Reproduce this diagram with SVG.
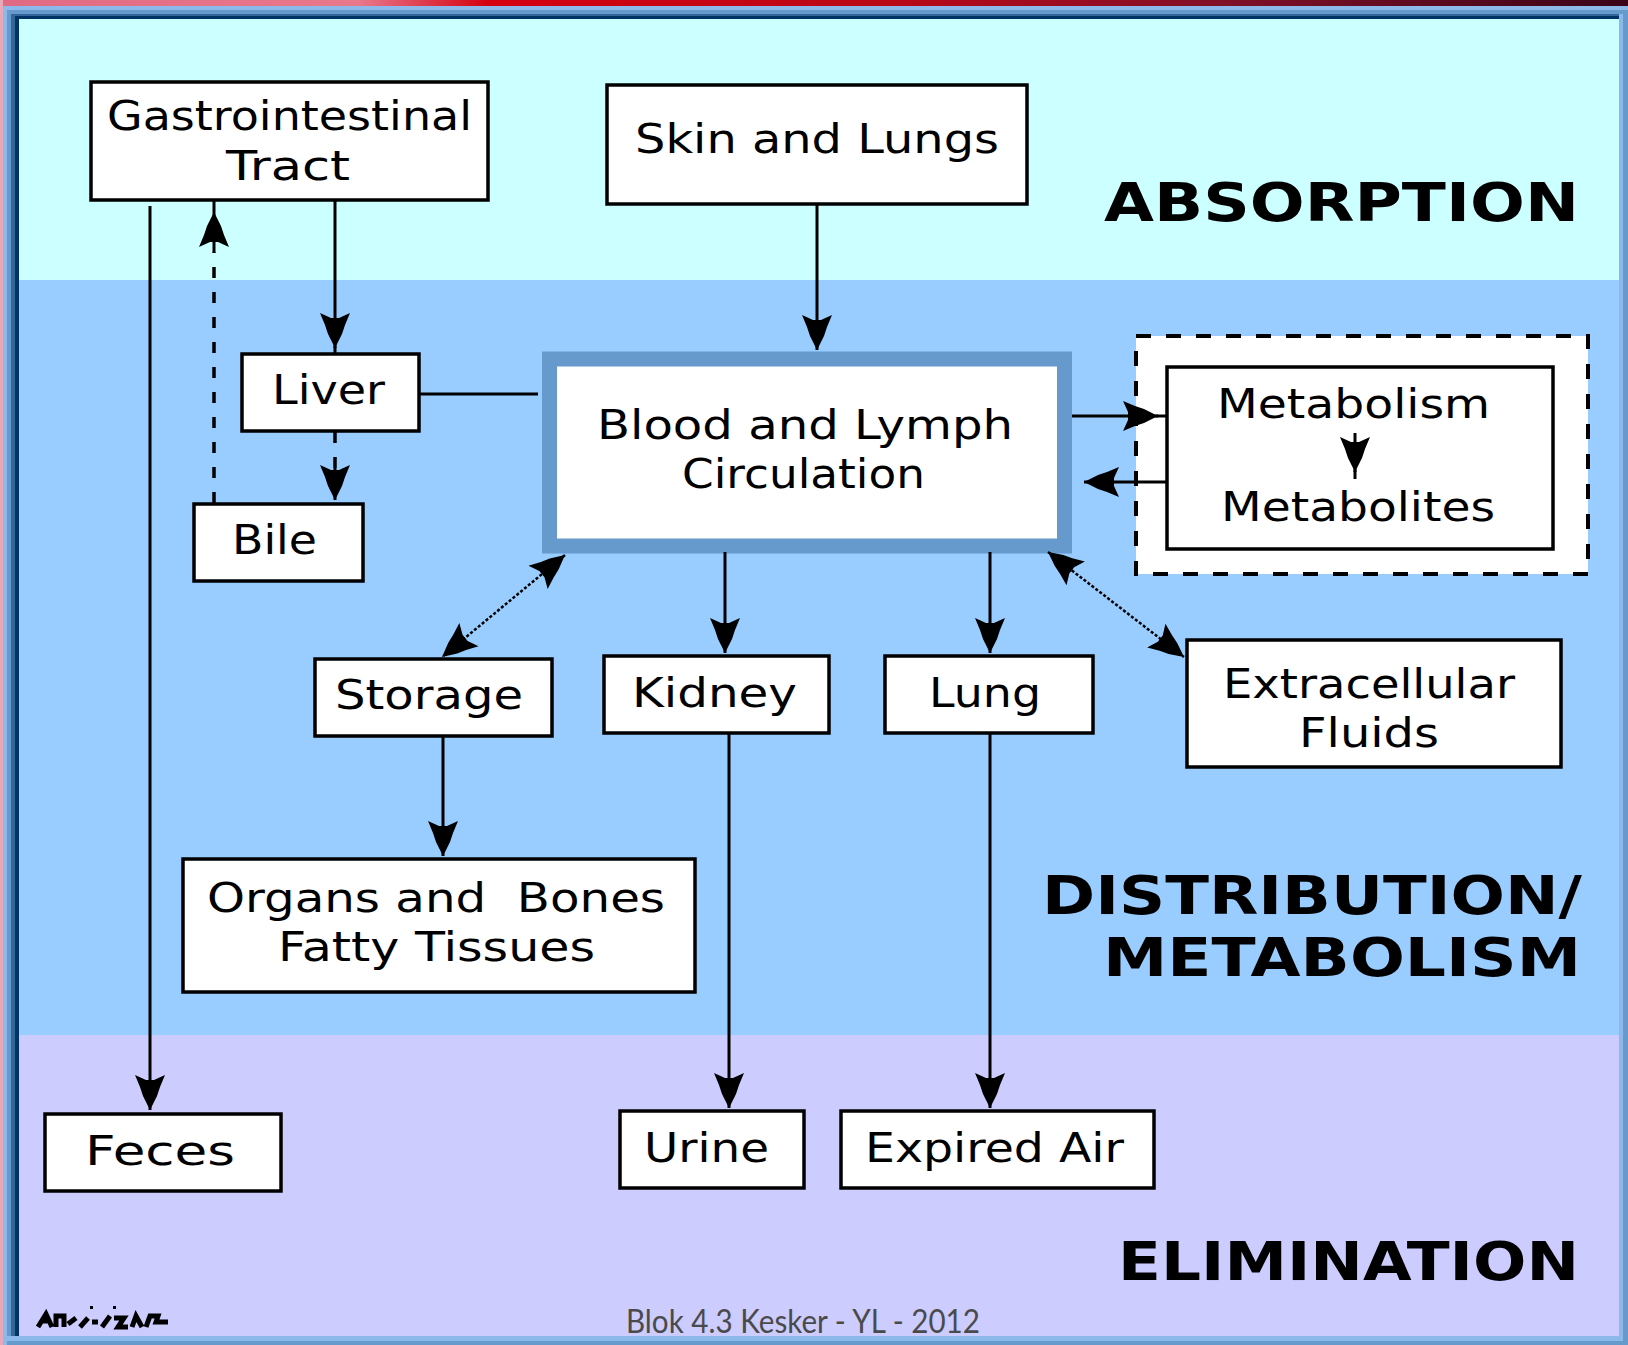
<svg xmlns="http://www.w3.org/2000/svg" width="1628" height="1345" viewBox="0 0 1628 1345">
<defs>
<linearGradient id="topgrad" x1="0" y1="0" x2="1" y2="0">
<stop offset="0" stop-color="#e06a84"/>
<stop offset="0.22" stop-color="#e8788c"/>
<stop offset="0.3" stop-color="#d40010"/>
<stop offset="0.55" stop-color="#b80818"/>
<stop offset="0.75" stop-color="#801028"/>
<stop offset="1" stop-color="#3a0418"/>
</linearGradient>
<marker id="arr" markerUnits="userSpaceOnUse" orient="auto-start-reverse" viewBox="-36 -16 38 32" markerWidth="38" markerHeight="32" refX="0" refY="0">
<path d="M0,0 L-14,-7 L-23,-10 L-35,-15 L-30,-4 L-30,4 L-35,15 L-23,10 L-14,7 Z" fill="#000"/>
</marker>
</defs>
<style>
.box{fill:#fff;stroke:#000;stroke-width:3.5}
.lbl{font-family:"DejaVu Sans","Liberation Sans",sans-serif;font-size:41px;fill:#000}
.hd{font-family:"DejaVu Sans","Liberation Sans",sans-serif;font-size:53px;font-weight:bold;fill:#000}
.ln{stroke:#000;stroke-width:3;fill:none}
.dash{stroke:#000;stroke-width:3.5;fill:none;stroke-dasharray:11 14}
.thin{stroke:#000;stroke-width:2.5;fill:none;stroke-dasharray:3 2}
</style>

<!-- frame -->
<rect x="0" y="0" width="1628" height="1345" fill="#8db9ea"/>
<rect x="0" y="0" width="1628" height="6" fill="url(#topgrad)"/>
<rect x="0" y="0" width="3" height="1345" fill="#e8a8b8"/>
<rect x="7" y="10" width="1616" height="1331" fill="#6699cc"/>
<rect x="11" y="14" width="1612" height="1322" fill="#336699"/>
<rect x="15" y="16" width="1608" height="1320" fill="#003366"/>
<rect x="1619" y="14" width="4" height="1322" fill="#8db9ea"/>
<rect x="1623" y="10" width="5" height="1335" fill="#6699cc"/>
<rect x="7" y="1336" width="1616" height="5" fill="#8db9ea"/>
<rect x="7" y="1341" width="1621" height="4" fill="#6699cc"/>

<!-- bands -->
<rect x="19" y="19" width="1600" height="261" fill="#ccffff"/>
<rect x="19" y="280" width="1600" height="755" fill="#99ccff"/>
<rect x="19" y="1035" width="1600" height="301" fill="#ccccff"/>

<!-- section headings -->
<g id="headings">
<text class="hd" x="1104" y="221" textLength="475" lengthAdjust="spacingAndGlyphs">ABSORPTION</text>
<text class="hd" x="1042" y="914" textLength="540" lengthAdjust="spacingAndGlyphs">DISTRIBUTION/</text>
<text class="hd" x="1103" y="976" textLength="478" lengthAdjust="spacingAndGlyphs">METABOLISM</text>
<text class="hd" x="1118" y="1280" textLength="461" lengthAdjust="spacingAndGlyphs">ELIMINATION</text>
</g>

<!-- nodes -->
<g id="gi">
<rect class="box" x="91" y="82" width="397" height="118"/>
<text class="lbl" x="107" y="130" textLength="365" lengthAdjust="spacingAndGlyphs">Gastrointestinal</text>
<text class="lbl" x="226" y="180" textLength="124" lengthAdjust="spacingAndGlyphs">Tract</text>
</g>
<g id="skin">
<rect class="box" x="607" y="85" width="420" height="119"/>
<text class="lbl" x="635" y="153" textLength="364" lengthAdjust="spacingAndGlyphs">Skin and Lungs</text>
</g>
<g id="liver">
<rect class="box" x="242" y="354" width="177" height="77"/>
<text class="lbl" x="272" y="404" textLength="113" lengthAdjust="spacingAndGlyphs">Liver</text>
</g>
<g id="bile">
<rect class="box" x="194" y="504" width="169" height="77"/>
<text class="lbl" x="232" y="554" textLength="85" lengthAdjust="spacingAndGlyphs">Bile</text>
</g>
<g id="blood">
<rect x="549.5" y="359" width="515" height="187" fill="#fff" stroke="#6699cc" stroke-width="15"/>
<text class="lbl" x="597" y="439" textLength="416" lengthAdjust="spacingAndGlyphs">Blood and Lymph</text>
<text class="lbl" x="682" y="488" textLength="243" lengthAdjust="spacingAndGlyphs">Circulation</text>
</g>
<g id="metabolism">
<rect x="1136" y="336" width="452" height="238" fill="#fff" stroke="#000" stroke-width="4" stroke-dasharray="15 15"/>
<rect class="box" x="1167" y="367" width="386" height="182"/>
<text class="lbl" x="1217" y="418" textLength="273" lengthAdjust="spacingAndGlyphs">Metabolism</text>
<line class="ln" x1="1355" y1="433" x2="1355" y2="472" marker-end="url(#arr)"/>
<line class="ln" x1="1355" y1="470" x2="1355" y2="479"/>
<text class="lbl" x="1221" y="521" textLength="274" lengthAdjust="spacingAndGlyphs">Metabolites</text>
</g>
<g id="storage">
<rect class="box" x="315" y="659" width="237" height="77"/>
<text class="lbl" x="335" y="709" textLength="188" lengthAdjust="spacingAndGlyphs">Storage</text>
</g>
<g id="kidney">
<rect class="box" x="604" y="656" width="225" height="77"/>
<text class="lbl" x="632" y="707" textLength="165" lengthAdjust="spacingAndGlyphs">Kidney</text>
</g>
<g id="lung">
<rect class="box" x="885" y="656" width="208" height="77"/>
<text class="lbl" x="929" y="707" textLength="112" lengthAdjust="spacingAndGlyphs">Lung</text>
</g>
<g id="extracellular">
<rect class="box" x="1187" y="640" width="374" height="127"/>
<text class="lbl" x="1223" y="698" textLength="292" lengthAdjust="spacingAndGlyphs">Extracellular</text>
<text class="lbl" x="1299" y="747" textLength="140" lengthAdjust="spacingAndGlyphs">Fluids</text>
</g>
<g id="organs">
<rect class="box" x="183" y="859" width="512" height="133"/>
<text class="lbl" x="207" y="912" textLength="458" lengthAdjust="spacingAndGlyphs" xml:space="preserve">Organs and  Bones</text>
<text class="lbl" x="278" y="961" textLength="317" lengthAdjust="spacingAndGlyphs">Fatty Tissues</text>
</g>
<g id="feces">
<rect class="box" x="45" y="1114" width="236" height="77"/>
<text class="lbl" x="85" y="1165" textLength="150" lengthAdjust="spacingAndGlyphs">Feces</text>
</g>
<g id="urine">
<rect class="box" x="620" y="1111" width="184" height="77"/>
<text class="lbl" x="644" y="1162" textLength="125" lengthAdjust="spacingAndGlyphs">Urine</text>
</g>
<g id="expired">
<rect class="box" x="841" y="1111" width="313" height="77"/>
<text class="lbl" x="865" y="1162" textLength="259" lengthAdjust="spacingAndGlyphs">Expired Air</text>
</g>

<!-- connectors -->
<g id="connectors">
<line class="ln" x1="150" y1="206" x2="150" y2="1110" marker-end="url(#arr)"/>
<line class="dash" x1="214" y1="503" x2="214" y2="252"/>
<line class="ln" x1="214" y1="252" x2="214" y2="212" marker-end="url(#arr)"/>
<line class="ln" x1="214" y1="212" x2="214" y2="201"/>
<line class="ln" x1="335" y1="201" x2="335" y2="348" marker-end="url(#arr)"/>
<line class="ln" x1="335" y1="346" x2="335" y2="353"/>
<line class="dash" x1="335" y1="432" x2="335" y2="470"/>
<line class="ln" x1="335" y1="468" x2="335" y2="500" marker-end="url(#arr)"/>
<line class="ln" x1="420" y1="394" x2="538" y2="394"/>
<line class="ln" x1="817" y1="205" x2="817" y2="350" marker-end="url(#arr)"/>
<line class="ln" x1="1072" y1="416" x2="1158" y2="416" marker-end="url(#arr)"/>
<line class="ln" x1="1156" y1="416" x2="1166" y2="416"/>
<line class="ln" x1="1166" y1="482" x2="1084" y2="482" marker-end="url(#arr)"/>
<line class="thin" x1="565" y1="555" x2="442" y2="657" marker-start="url(#arr)" marker-end="url(#arr)"/>
<line class="ln" x1="725" y1="552" x2="725" y2="653" marker-end="url(#arr)"/>
<line class="ln" x1="990" y1="552" x2="990" y2="653" marker-end="url(#arr)"/>
<line class="thin" x1="1048" y1="552" x2="1184" y2="657" marker-start="url(#arr)" marker-end="url(#arr)"/>
<line class="ln" x1="443" y1="737" x2="443" y2="856" marker-end="url(#arr)"/>
<line class="ln" x1="729" y1="734" x2="729" y2="1108" marker-end="url(#arr)"/>
<line class="ln" x1="990" y1="734" x2="990" y2="1108" marker-end="url(#arr)"/>
</g>

<!-- signature scribble -->
<g id="signature" stroke="#000" stroke-width="5" fill="none">
<path d="M38,1327 L46,1314 L52,1327 M42,1321 L50,1321 M56,1327 L56,1316 L64,1316 L64,1327 M68,1324 L76,1318 M80,1327 L88,1318 M92,1322 L98,1322 M102,1327 L110,1316 M114,1318 L124,1318 L118,1327 L128,1327 M132,1327 L136,1316 L142,1327 M146,1327 L150,1316 L158,1316 L156,1322 L168,1322"/>
<rect x="90" y="1306" width="3" height="3" fill="#000" stroke="none"/>
<rect x="113" y="1306" width="3" height="3" fill="#000" stroke="none"/>
</g>

<text x="626" y="1333" font-family="Lato,'Open Sans',sans-serif" font-size="32" fill="#4a4a4a" textLength="354" lengthAdjust="spacingAndGlyphs">Blok 4.3 Kesker - YL - 2012</text>
</svg>
